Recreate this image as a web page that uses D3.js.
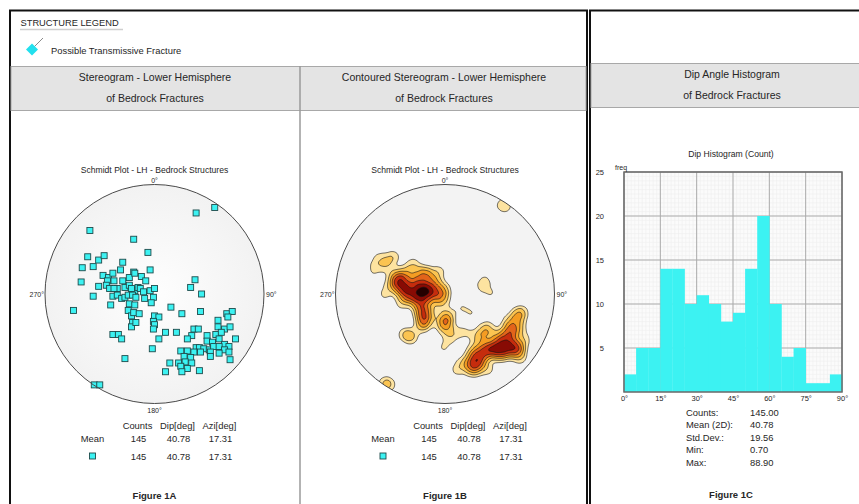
<!DOCTYPE html>
<html>
<head>
<meta charset="utf-8">
<script src="https://cdn.jsdelivr.net/npm/d3@7"></script>
<style>
  body { margin: 0; background: #fff; }
  text { font-family: "Liberation Sans", Arial, sans-serif; fill: #262626; }
</style>
</head>
<body>
<div id="chart"></div>
<script>

var poleEast = [38, 55, -59, -19, -6,
    -61, -51, -46, -66, -56, -29, -31, -19, -4, -67, -47, -42, -38, -37, -43, -29, -23, -12, -8, -18,
    -51, -44, -41, -34, -37, -27, -23, -18, -15, -13, -10, -4, 0, -56, -38, -34, -30, -27, -24, -21,
    -20, -17, -9, -1, -3, -40, -23, -18, -74, -24, -21, -19, -14, 0, 4, -1, -20, -21, -17, 0, -1,
    -38, -33, -30, -27, -2, -55, -50,
    15, 25, 37, 33, 43, 42, 4, 10, 20,
    66, 71, 67, 58, 36, 40, 58, 64, 69, 34, 30, 48, 56, 61, 74, 48, 53, 59, 64, 68, 38, 41, 45, 50,
    54, 59, 64, 24, 30, 36, 42, 51, 59, 68, 27, 33, 51, 69, 14, 22, 28, 34, 24, 30, 25, 10, 41];
var poleNorth = [74, 79, 58, 50, 38,
    34, 31, 35, 24, 25, 29, 22, 20, 22, 11, 17, 15, 19, 12, 12, 12, 15, 16, 12, 19,
    7, 8, 5, 5, 5, 6, 8, 3, 6, 5, 2, 3, 5, -2, -2, -1, -4, -3, -1, 5,
    -1, -3, -4, -3, -8, -10, -9, -10, -15, -15, -20, -17, -18, -20, -21, -25, -26, -30, -26, -28, -32,
    -37, -37, -41, -59, -50, -83, -83,
    -12, -18, 13, 6, 0, -16, -41, -35, -35,
    -18, -16, -21, -24, -32, -32, -30, -32, -30, -38, -41, -38, -37, -35, -41, -43, -44, -41, -46, -48, -49, -49, -50, -51,
    -48, -48, -51, -52, -52, -53, -53, -53, -54, -53, -57, -58, -57, -60, -63, -63, -62, -63, -66, -68, -71, -71, -70];

var compassText = ["0°", "90°", "180°", "270°"];
var tableHeads = ["Counts", "Dip[deg]", "Azi[deg]"];
var meanValues = ["145", "40.78", "17.31"];
var setValues = ["145", "40.78", "17.31"];

var dipBinStart = [0, 5, 10, 15, 20, 25, 30, 35, 40, 45, 50, 55, 60, 65, 70, 75, 80, 85];
var dipCounts = [2, 5, 5, 14, 14, 10, 11, 10, 8, 9, 14, 20, 10, 4, 5, 1, 1, 2];
var dipTicks = [0, 15, 30, 45, 60, 75, 90];
var freqTicks = [5, 10, 15, 20, 25];
var histStatNames = ["Counts:", "Mean (2D):", "Std.Dev.:", "Min:", "Max:"];
var histStatValues = ["145.00", "40.78", "19.56", "0.70", "88.90"];

var contourColors = ["#fdf3d4", "#fde3a0", "#fbc451", "#f49c22", "#e3641a", "#c52c0d", "#880b04", "#250000"];
var cyan = "#3cf2f2";

var svg = d3.select("#chart").append("svg")
    .attr("width", 859)
    .attr("height", 504);

var defs = svg.append("defs");
var grad = defs.append("radialGradient").attr("id", "netfill");
grad.append("stop").attr("offset", "0%").attr("stop-color", "#fefefe");
grad.append("stop").attr("offset", "100%").attr("stop-color", "#f2f2f2");

// ---- frames and header bands
svg.append("rect").attr("x", 10).attr("y", 10.5).attr("width", 577).attr("height", 520)
    .attr("fill", "none").attr("stroke", "#111").attr("stroke-width", 2);
svg.append("rect").attr("x", 590).attr("y", 10.5).attr("width", 300).attr("height", 520)
    .attr("fill", "none").attr("stroke", "#111").attr("stroke-width", 2);

svg.append("rect").attr("x", 11).attr("y", 66.5).attr("width", 575).attr("height", 44)
    .attr("fill", "#e4e4e4").attr("stroke", "#a8a8a8");
svg.append("rect").attr("x", 591).attr("y", 63.5).attr("width", 270).attr("height", 44)
    .attr("fill", "#e4e4e4").attr("stroke", "#a8a8a8");
svg.append("line").attr("x1", 300).attr("x2", 300).attr("y1", 66).attr("y2", 504)
    .attr("stroke", "#9a9a9a").attr("stroke-width", 1.5);

var headers = [
    {x: 155, y: 66.5, lines: ["Stereogram - Lower Hemisphere", "of Bedrock Fractures"]},
    {x: 444, y: 66.5, lines: ["Contoured Stereogram - Lower Hemisphere", "of Bedrock Fractures"]},
    {x: 732, y: 63.5, lines: ["Dip Angle Histogram", "of Bedrock Fractures"]}
];
headers.forEach(function (h) {
    h.lines.forEach(function (t, i) {
        svg.append("text").attr("x", h.x).attr("y", h.y + 14 + i * 21)
            .attr("text-anchor", "middle").attr("font-size", "10.5px").text(t);
    });
});

// ---- structure legend
svg.append("text").attr("x", 20.5).attr("y", 25.5).attr("font-size", "9.3px").text("STRUCTURE LEGEND");
svg.append("line").attr("x1", 20).attr("x2", 123).attr("y1", 29.5).attr("y2", 29.5)
    .attr("stroke", "#cfcfcf").attr("stroke-width", 1.5);
svg.append("line").attr("x1", 34).attr("y1", 47).attr("x2", 43).attr("y2", 38)
    .attr("stroke", "#8a8a8a").attr("stroke-width", 1);
svg.append("path").attr("d", "M32,43.5 L38,49.5 L32,55.5 L26,49.5 Z").attr("fill", "#22e0ee");
svg.append("text").attr("x", 51).attr("y", 53.5).attr("font-size", "9.4px").text("Possible Transmissive Fracture");

// ---- stereonets
var poles = poleEast.map(function (e, i) { return {e: e, n: poleNorth[i], w: 1}; });
var netR = 109.5;

function drawNet(cx, cy, kind, figName) {
    var x = d3.scaleLinear().domain([-100, 100]).range([cx - netR, cx + netR]);
    var y = d3.scaleLinear().domain([-100, 100]).range([cy + netR, cy - netR]);
    var g = svg.append("g");

    g.append("text").attr("x", cx).attr("y", cy - 121).attr("text-anchor", "middle")
        .attr("font-size", "8.6px").text("Schmidt Plot - LH - Bedrock Structures");

    g.append("circle").attr("cx", cx).attr("cy", cy).attr("r", netR)
        .attr("fill", kind == "points" ? "url(#netfill)" : "#f3f3f3");

    if (kind == "points") {
        g.append("g").selectAll("rect")
            .data(poles)
            .enter()
            .append("rect")
            .attr("x", function (d) { return x(d.e) - 3; })
            .attr("y", function (d) { return y(d.n) - 3; })
            .attr("width", 6)
            .attr("height", 6)
            .attr("fill", cyan)
            .attr("stroke", "#1d4b4b")
            .attr("stroke-width", 0.9);
    } else {
        // poles near the primitive also count (half) on the opposite side
        var pts = poles.slice();
        poles.forEach(function (p) {
            if (Math.sqrt(p.e * p.e + p.n * p.n) > 90) pts.push({e: -p.e, n: -p.n, w: 0.5});
        });
        var off = 30, size = Math.ceil(2 * netR + 2 * off);
        var bw = 5.5, unit = 1 / (2 * Math.PI * bw * bw);
        var density = d3.contourDensity()
            .x(function (p) { return x(p.e) - (cx - netR - off); })
            .y(function (p) { return y(p.n) - (cy - netR - off); })
            .weight(function (p) { return p.w; })
            .size([size, size])
            .cellSize(1)
            .bandwidth(bw);
        var contour = density.contours(pts);
        var levels = [1.3 * unit].concat([0.17, 0.28, 0.4, 0.52, 0.64, 0.77, 0.9].map(function (k) {
            return k * contour.max;
        }));
        var dens = levels.map(function (v) { return contour(v); });

        defs.append("clipPath").attr("id", "netclip")
            .append("circle").attr("cx", cx).attr("cy", cy).attr("r", netR);
        g.append("g").attr("clip-path", "url(#netclip)")
            .append("g").attr("transform", "translate(" + (cx - netR - off) + "," + (cy - netR - off) + ")")
            .selectAll("path")
            .data(dens)
            .enter()
            .append("path")
            .attr("d", d3.geoPath())
            .attr("fill", function (d, i) { return contourColors[i]; })
            .attr("stroke", "#151515")
            .attr("stroke-width", 0.6);
    }

    g.append("circle").attr("cx", cx).attr("cy", cy).attr("r", netR)
        .attr("fill", "none").attr("stroke", "#4a4a4a").attr("stroke-width", 1);

    g.append("text").attr("x", cx).attr("y", cy - netR - 2).attr("text-anchor", "middle")
        .attr("font-size", "7px").text(compassText[0]);
    g.append("text").attr("x", cx + netR + 2).attr("y", cy + 3).attr("font-size", "7px").text(compassText[1]);
    g.append("text").attr("x", cx).attr("y", cy + netR + 9).attr("text-anchor", "middle")
        .attr("font-size", "7px").text(compassText[2]);
    g.append("text").attr("x", cx - netR - 1).attr("y", cy + 3).attr("text-anchor", "end")
        .attr("font-size", "7px").text(compassText[3]);

    // statistics table
    var cols = [-17, 23, 65];
    tableHeads.forEach(function (t, i) {
        g.append("text").attr("x", cx + cols[i]).attr("y", cy + 135).attr("text-anchor", "middle")
            .attr("font-size", "9.4px").text(t);
        g.append("text").attr("x", cx + cols[i] + 1).attr("y", cy + 147.5).attr("text-anchor", "middle")
            .attr("font-size", "9.4px").text(meanValues[i]);
        g.append("text").attr("x", cx + cols[i] + 1).attr("y", cy + 165.5).attr("text-anchor", "middle")
            .attr("font-size", "9.4px").text(setValues[i]);
    });
    g.append("text").attr("x", cx - 62).attr("y", cy + 147.5).attr("text-anchor", "middle")
        .attr("font-size", "9.4px").text("Mean");
    g.append("rect").attr("x", cx - 65).attr("y", cy + 159).attr("width", 6).attr("height", 6)
        .attr("fill", cyan).attr("stroke", "#1d4b4b").attr("stroke-width", 0.9);

    g.append("text").attr("x", cx).attr("y", cy + 204.5).attr("text-anchor", "middle")
        .attr("font-size", "9.5px").attr("font-weight", "bold").text(figName);
}

drawNet(154.5, 294, "points", "Figure 1A");
drawNet(445, 294, "contour", "Figure 1B");

// ---- dip histogram
var hx = d3.scaleLinear().domain([0, 90]).range([624, 842]);
var hy = d3.scaleLinear().domain([0, 25]).range([392, 172]);
var hg = svg.append("g");

hg.append("text").attr("x", 731).attr("y", 156.5).attr("text-anchor", "middle")
    .attr("font-size", "8.6px").text("Dip Histogram (Count)");

hg.append("rect").attr("x", hx(0)).attr("y", hy(25)).attr("width", hx(90) - hx(0))
    .attr("height", hy(0) - hy(25)).attr("fill", "#fbfbfb");

hg.append("g").selectAll("line").data(d3.range(0, 90.01, 1.5)).enter().append("line")
    .attr("x1", hx).attr("x2", hx).attr("y1", hy(0)).attr("y2", hy(25))
    .attr("stroke", "#efefef").attr("stroke-width", 0.6);
hg.append("g").selectAll("line").data(d3.range(0, 25.01, 0.5)).enter().append("line")
    .attr("y1", hy).attr("y2", hy).attr("x1", hx(0)).attr("x2", hx(90))
    .attr("stroke", "#efefef").attr("stroke-width", 0.6);
hg.append("g").selectAll("line").data(dipTicks).enter().append("line")
    .attr("x1", hx).attr("x2", hx).attr("y1", hy(0)).attr("y2", hy(25))
    .attr("stroke", "#ababab").attr("stroke-width", 1);
hg.append("g").selectAll("line").data(freqTicks).enter().append("line")
    .attr("y1", hy).attr("y2", hy).attr("x1", hx(0)).attr("x2", hx(90))
    .attr("stroke", "#ababab").attr("stroke-width", 1);

hg.append("g").selectAll("rect")
    .data(dipCounts)
    .enter()
    .append("rect")
    .attr("x", function (d, i) { return hx(dipBinStart[i]); })
    .attr("width", function (d, i) { return hx(dipBinStart[i] + 5) - hx(dipBinStart[i]) + 0.3; })
    .attr("y", function (d) { return hy(d); })
    .attr("height", function (d) { return hy(0) - hy(d); })
    .attr("fill", cyan);

hg.append("rect").attr("x", hx(0)).attr("y", hy(25)).attr("width", hx(90) - hx(0))
    .attr("height", hy(0) - hy(25)).attr("fill", "none").attr("stroke", "#6a6a6a").attr("stroke-width", 1.5);

var xAxis = hg.append("g").attr("transform", "translate(0," + hy(0) + ")")
    .call(d3.axisBottom(hx).tickValues(dipTicks).tickSize(0).tickPadding(4)
        .tickFormat(function (d) { return d + "°"; }));
var yAxis = hg.append("g").attr("transform", "translate(" + hx(0) + ",0)")
    .call(d3.axisLeft(hy).tickValues(freqTicks).tickSize(0).tickPadding(20));
[xAxis, yAxis].forEach(function (a) {
    a.select(".domain").remove();
    a.selectAll("text").attr("font-size", "7.5px").attr("font-family", "Liberation Sans, Arial, sans-serif")
        .attr("fill", "#262626");
});
hg.append("text").attr("x", 615).attr("y", 170).attr("font-size", "7px").text("freq");

histStatNames.forEach(function (t, i) {
    hg.append("text").attr("x", 686).attr("y", 415.5 + i * 12.6).attr("font-size", "9.4px").text(t);
    hg.append("text").attr("x", 750).attr("y", 415.5 + i * 12.6).attr("font-size", "9.4px").text(histStatValues[i]);
});
hg.append("text").attr("x", 731).attr("y", 497.5).attr("text-anchor", "middle")
    .attr("font-size", "9.5px").attr("font-weight", "bold").text("Figure 1C");

</script>
</body>
</html>
